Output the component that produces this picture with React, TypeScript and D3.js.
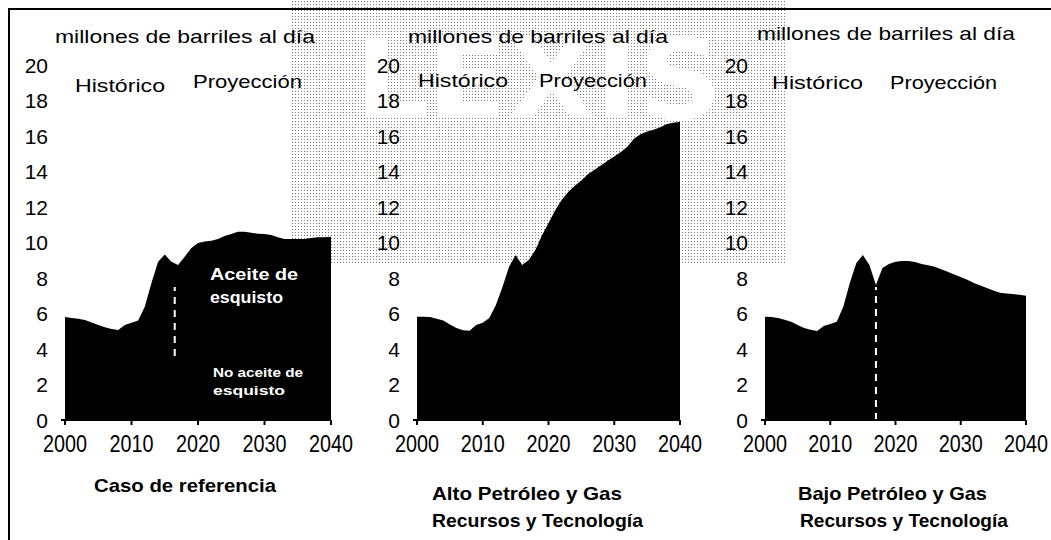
import React from "react";
import * as d3 from "d3";

// ---------- data ----------
const years = [
  2000, 2001, 2002, 2003, 2004, 2005, 2006, 2007, 2008, 2009,
  2010, 2011, 2012, 2013, 2014, 2015, 2016, 2017, 2018, 2019,
  2020, 2021, 2022, 2023, 2024, 2025, 2026, 2027, 2028, 2029,
  2030, 2031, 2032, 2033, 2034, 2035, 2036, 2037, 2038, 2039, 2040,
];

// millones de barriles al día (total de producción)
const referenceCase = [
  5.8, 5.75, 5.7, 5.63, 5.5, 5.35, 5.22, 5.13, 5.07, 5.35,
  5.48, 5.6, 6.38, 7.72, 8.92, 9.32, 8.92, 8.73, 9.2, 9.69,
  9.97, 10.05, 10.1, 10.2, 10.37, 10.48, 10.6, 10.6, 10.55, 10.5,
  10.48, 10.42, 10.3, 10.2, 10.2, 10.2, 10.2, 10.25, 10.3, 10.3, 10.33,
];
const highResource = [
  5.82, 5.82, 5.8, 5.7, 5.6, 5.38, 5.18, 5.05, 5.03, 5.35,
  5.48, 5.75, 6.48, 7.5, 8.64, 9.3, 8.73, 9.01, 9.58, 10.4,
  11.1, 11.8, 12.39, 12.85, 13.2, 13.5, 13.85, 14.1, 14.35, 14.6,
  14.85, 15.1, 15.4, 15.85, 16.1, 16.25, 16.35, 16.5, 16.68, 16.75, 16.8,
];
const lowResource = [
  5.82, 5.8, 5.75, 5.65, 5.54, 5.35, 5.18, 5.08, 5.02, 5.3,
  5.41, 5.54, 6.38, 7.72, 8.85, 9.3, 8.73, 7.6, 8.56, 8.79,
  8.92, 8.96, 8.96, 8.9, 8.79, 8.72, 8.64, 8.5, 8.35, 8.2,
  8.06, 7.9, 7.72, 7.58, 7.44, 7.3, 7.17, 7.12, 7.1, 7.05, 7.0,
];

const yTicks = [0, 2, 4, 6, 8, 10, 12, 14, 16, 18, 20];
const xTicks = [2000, 2010, 2020, 2030, 2040];
const unitLabel = "millones de barriles al día";
const historicLabel = "Histórico";
const projectionLabel = "Proyección";
const caseLabels = [
  ["Caso de referencia"],
  ["Alto Petróleo y Gas", "Recursos y Tecnología"],
  ["Bajo Petróleo y Gas", "Recursos y Tecnología"],
];
const shaleLabel = ["Aceite de", "esquisto"];
const nonShaleLabel = ["No aceite de", "esquisto"];
const dividerYears = [2016.5, null, 2017];
const dividerRanges = [[3.6, 7.5], null, [0, 7.5]];
const watermark = "LEXIS";

const series = [referenceCase, highResource, lowResource];

// ---------- layout ----------
const W = 1051;
const H = 540;
const Y0 = 420;
const Y20 = 65;

const layout = [
  {
    x0: 65, x1: 331,
    title: { x: 55, y: 43, w: 260 },
    hist: { x: 75, y: 92, w: 90 },
    proj: { x: 193, y: 88, w: 109 },
    bottom: [{ x: 94, y: 492, w: 182 }],
  },
  {
    x0: 417, x1: 680,
    title: { x: 408, y: 43, w: 260 },
    hist: { x: 418, y: 87, w: 90 },
    proj: { x: 539, y: 87, w: 108 },
    bottom: [{ x: 432, y: 500, w: 190 }, { x: 432, y: 527, w: 211 }],
  },
  {
    x0: 765, x1: 1026,
    title: { x: 757, y: 40, w: 258 },
    hist: { x: 772, y: 89, w: 91 },
    proj: { x: 890, y: 89, w: 107 },
    bottom: [{ x: 798, y: 500, w: 189 }, { x: 800, y: 527, w: 208 }],
  },
];

const FONT = "'Liberation Sans', Arial, sans-serif";

function T(props: any) {
  const { x, y, w, size = 19, weight = "normal", fill = "#000", anchor = "start", children, dy } = props;
  return (
    <text
      x={x}
      y={y}
      dy={dy}
      fontFamily={FONT}
      fontSize={size}
      fontWeight={weight}
      fill={fill}
      textAnchor={anchor}
      textLength={w}
      lengthAdjust={w ? "spacingAndGlyphs" : undefined}
    >
      {children}
    </text>
  );
}

function Panel({ idx }: { idx: number }) {
  const L = layout[idx];
  const values = series[idx];
  const x = d3.scaleLinear().domain([2000, 2040]).range([L.x0, L.x1]);
  const y = d3.scaleLinear().domain([0, 20]).range([Y0, Y20]);
  const area = d3
    .area<number>()
    .x((_, i) => x(years[i]))
    .y0(y(0))
    .y1((d) => y(d))
    .curve(d3.curveLinear);
  const dYear = dividerYears[idx];
  const dRange = dividerRanges[idx];

  return (
    <g>
      <T x={L.title.x} y={L.title.y} w={L.title.w} size={19}>{unitLabel}</T>
      <T x={L.hist.x} y={L.hist.y} w={L.hist.w} size={19}>{historicLabel}</T>
      <T x={L.proj.x} y={L.proj.y} w={L.proj.w} size={19}>{projectionLabel}</T>

      {yTicks.map((t) => (
        <T key={t} x={L.x0 - 17} y={y(t)} dy="0.36em" size={21} anchor="end">
          {t}
        </T>
      ))}

      <path d={area(values) || ""} fill="#000" />

      {dYear !== null && dRange && (
        <line
          x1={x(dYear)}
          x2={x(dYear)}
          y1={y(dRange[0])}
          y2={y(dRange[1])}
          stroke="#fff"
          strokeWidth={2}
          strokeDasharray="7 6"
        />
      )}

      <line x1={L.x0} x2={L.x1} y1={Y0} y2={Y0} stroke="#000" strokeWidth={2} />
      <line x1={L.x0 - 4} x2={L.x0} y1={Y0} y2={Y0} stroke="#000" strokeWidth={2} />
      {xTicks.map((t) => (
        <g key={t}>
          <line x1={x(t)} x2={x(t)} y1={Y0} y2={Y0 + 5} stroke="#000" strokeWidth={2} />
          <T x={x(t)} y={452} w={44} size={24} anchor="middle">{t}</T>
        </g>
      ))}

      {caseLabels[idx].map((s, i) => (
        <T key={i} x={L.bottom[i].x} y={L.bottom[i].y} w={L.bottom[i].w} size={19} weight="bold">
          {s}
        </T>
      ))}

      {idx === 0 && (
        <g>
          <T x={210} y={280} w={88} size={16} weight="bold" fill="#fff">{shaleLabel[0]}</T>
          <T x={210} y={303} w={73} size={16} weight="bold" fill="#fff">{shaleLabel[1]}</T>
          <T x={213} y={377} w={90} size={13} weight="bold" fill="#fff">{nonShaleLabel[0]}</T>
          <T x={213} y={395} w={72} size={13} weight="bold" fill="#fff">{nonShaleLabel[1]}</T>
        </g>
      )}
    </g>
  );
}

export default function App() {
  return (
    <svg width={W} height={H} style={{ display: "block", position: "absolute", left: 0, top: 0, background: "#fff" }}>
      <defs>
        <pattern id="dots" width={3} height={3} patternUnits="userSpaceOnUse">
          <rect x={0} y={0} width={3} height={3} fill="#fff" />
          <rect x={1} y={1} width={1} height={1} fill="#777" />
        </pattern>
      </defs>
      <rect x={0} y={0} width={W} height={H} fill="#fff" />
      {/* scanned watermark */}
      <rect x={290} y={0} width={495} height={263} fill="url(#dots)" />
      <text
        x={355}
        y={118}
        fontFamily="'DejaVu Sans', sans-serif"
        fontWeight="bold"
        fontSize={110}
        fill="#fff"
        textLength={367}
        lengthAdjust="spacingAndGlyphs"
      >
        {watermark}
      </text>

      <path d={`M9,${H} L9,9 L${W},9`} fill="none" stroke="#000" strokeWidth={2} />

      {[0, 1, 2].map((i) => (
        <Panel key={i} idx={i} />
      ))}
    </svg>
  );
}
